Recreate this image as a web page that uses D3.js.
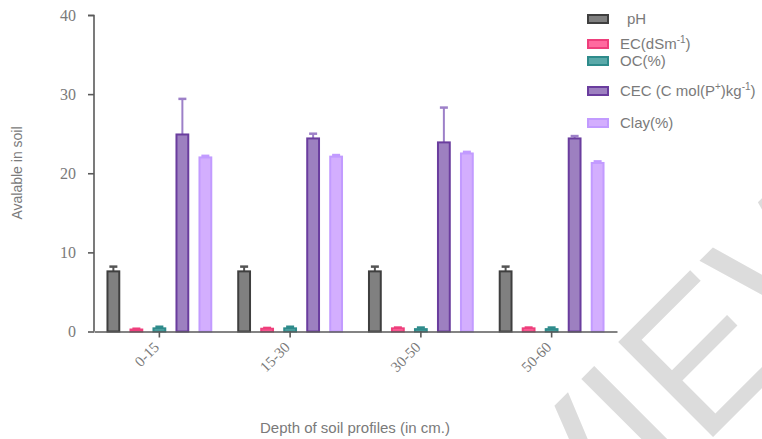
<!DOCTYPE html>
<html lang="en">
<head>
<meta charset="UTF-8">
<title>Soil properties by depth</title>
<style>
  body { margin: 0; background: #fff; }
  svg { display: block; }
</style>
</head>
<body>
<svg id="chart" width="762" height="439"></svg>
<script src="https://cdn.jsdelivr.net/npm/d3@7"></script>
<script>
/* global d3 */

// depth profiles (x categories)
var depths = ["0-15", "15-30", "30-50", "50-60"];
var series = ["pH", "EC", "OC", "CEC", "Clay"];

// means and upper error bars, one value per depth
var pH      = [7.6, 7.6, 7.6, 7.6];
var pHErr   = [0.6, 0.6, 0.6, 0.6];
var ec      = [0.25, 0.35, 0.4, 0.4];
var ecErr   = [0.1, 0.1, 0.1, 0.1];
var oc      = [0.4, 0.4, 0.3, 0.3];
var ocErr   = [0.2, 0.2, 0.2, 0.2];
var cec     = [24.9, 24.4, 23.9, 24.4];
var cecErr  = [4.5, 0.6, 4.4, 0.3];
var clay    = [22.0, 22.1, 22.5, 21.3];
var clayErr = [0.2, 0.2, 0.2, 0.2];

var yTicks = [0, 10, 20, 30, 40];

var svg = d3.select("#chart");

var x0 = d3.scaleBand().domain(depths).range([94, 617]);
var x1 = d3.scaleBand().domain(series).range([-52.9, 52.9]).paddingInner(0.4).paddingOuter(0);
var y = d3.scaleLinear().domain([0, 40]).range([331.5, 15]);

var colors = {
    pH:   { fill: "#808080", stroke: "#3f3f3f", err: "#555555" },
    EC:   { fill: "#ff6a9f", stroke: "#ee3f7c", err: "#ee3f7c" },
    OC:   { fill: "#5aa9a9", stroke: "#2e8b8b", err: "#2e8b8b" },
    CEC:  { fill: "#9d80c0", stroke: "#6a3d9e", err: "#9d80c8" },
    Clay: { fill: "#d3aefe", stroke: "#c29bff", err: "#c29bff" }
};

var values = { pH: pH, EC: ec, OC: oc, CEC: cec, Clay: clay };
var errors = { pH: pHErr, EC: ecErr, OC: ocErr, CEC: cecErr, Clay: clayErr };

// watermark behind everything
svg.append("text")
    .attr("transform", "translate(288,862) rotate(-45)")
    .attr("font-family", "Liberation Sans, Arial, sans-serif")
    .attr("font-size", 195)
    .attr("fill", "#dcdcdc")
    .text("PREVIEW");

// bars
var rows = [];
depths.forEach(function(d, i) {
    series.forEach(function(s) {
        rows.push({ depth: d, key: s, value: values[s][i], err: errors[s][i] });
    });
});

var bar = svg.append("g").selectAll("g")
    .data(rows)
    .join("g")
    .attr("transform", d => "translate(" + (x0(d.depth) + x0.bandwidth() / 2 + x1(d.key)) + ",0)");

// error bars (upper only)
bar.append("line")
    .attr("x1", x1.bandwidth() / 2).attr("x2", x1.bandwidth() / 2)
    .attr("y1", d => y(d.value)).attr("y2", d => y(d.value + d.err))
    .attr("stroke", d => colors[d.key].err)
    .attr("stroke-width", 2);
bar.append("line")
    .attr("x1", x1.bandwidth() / 2 - 4).attr("x2", x1.bandwidth() / 2 + 4)
    .attr("y1", d => y(d.value + d.err)).attr("y2", d => y(d.value + d.err))
    .attr("stroke", d => colors[d.key].err)
    .attr("stroke-width", 2.5);

bar.append("rect")
    .attr("x", 1)
    .attr("width", x1.bandwidth() - 2)
    .attr("y", d => y(d.value))
    .attr("height", d => y(0) - y(d.value))
    .attr("fill", d => colors[d.key].fill)
    .attr("stroke", d => colors[d.key].stroke)
    .attr("stroke-width", 2);

// axes
var yAxis = svg.append("g")
    .attr("transform", "translate(94,0)")
    .call(d3.axisLeft(y).tickValues(yTicks).tickSize(6).tickPadding(12));

var xAxis = svg.append("g")
    .attr("transform", "translate(0," + y(0) + ")")
    .call(d3.axisBottom(x0).tickSize(6).tickSizeOuter(0));

[yAxis, xAxis].forEach(function(g) {
    g.select(".domain").attr("stroke", "#5a5a5a").attr("stroke-width", 1.6);
    g.selectAll(".tick line").attr("stroke", "#5a5a5a").attr("stroke-width", 1.6);
    g.selectAll(".tick text")
        .attr("fill", "#7a7a7a")
        .attr("font-family", "Liberation Serif, Times New Roman, serif")
        .attr("font-size", 16);
});
yAxis.select(".domain").attr("d", "M-6,15.5H0V331.5");

xAxis.selectAll(".tick text")
    .attr("font-size", 15)
    .attr("text-anchor", "end")
    .attr("x", 0).attr("y", 0)
    .attr("dy", "0.35em")
    .attr("transform", "translate(-3,13) rotate(-45)");

// axis titles
svg.append("text")
    .attr("transform", "translate(22,173) rotate(-90)")
    .attr("text-anchor", "middle")
    .attr("font-family", "Liberation Sans, Arial, sans-serif")
    .attr("font-size", 14)
    .attr("fill", "#7a7a7a")
    .text("Avalable in soil");

svg.append("text")
    .attr("x", 355).attr("y", 433)
    .attr("text-anchor", "middle")
    .attr("font-family", "Liberation Sans, Arial, sans-serif")
    .attr("font-size", 15)
    .attr("fill", "#7a7a7a")
    .text("Depth of soil profiles (in cm.)");

// legend
var legendY = [19, 44, 61, 91, 123];
var legend = svg.append("g")
    .attr("font-family", "Liberation Sans, Arial, sans-serif")
    .attr("font-size", 15)
    .attr("fill", "#7a7a7a");

series.forEach(function(s, i) {
    var g = legend.append("g").attr("transform", "translate(588," + legendY[i] + ")");
    g.append("rect")
        .attr("x", 0).attr("y", -4).attr("width", 20).attr("height", 8)
        .attr("fill", colors[s].fill)
        .attr("stroke", colors[s].stroke)
        .attr("stroke-width", 2);
    var t = g.append("text").attr("x", s === "pH" ? 39 : 32).attr("y", 5);
    if (s === "pH") {
        t.text("pH");
    } else if (s === "EC") {
        t.append("tspan").text("EC(dSm");
        t.append("tspan").attr("font-size", 10).attr("dy", -6).text("-1");
        t.append("tspan").attr("dy", 6).text(")");
    } else if (s === "OC") {
        t.text("OC(%)");
    } else if (s === "CEC") {
        t.append("tspan").text("CEC (C mol(P");
        t.append("tspan").attr("font-size", 10).attr("dy", -6).text("+");
        t.append("tspan").attr("dy", 6).text(")kg");
        t.append("tspan").attr("font-size", 10).attr("dy", -6).text("-1");
        t.append("tspan").attr("dy", 6).text(")");
    } else {
        t.text("Clay(%)");
    }
});
</script>
</body>
</html>
